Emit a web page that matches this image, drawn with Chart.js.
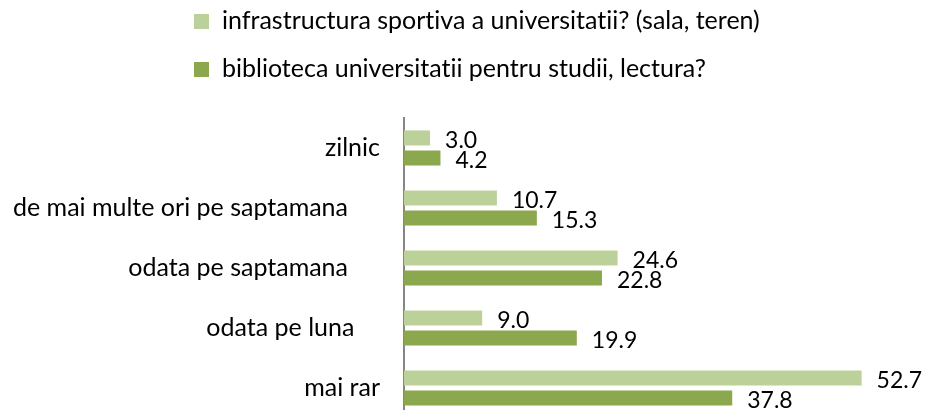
<!DOCTYPE html>
<html>
<head>
<meta charset="utf-8">
<script src="https://cdn.jsdelivr.net/npm/chart.js@4.4.1/dist/chart.umd.min.js"></script>
<style>
  html, body { margin: 0; padding: 0; background: #fff; overflow: hidden; }
  #wrap { position: relative; width: 928px; height: 420px; }
  #legend { position: absolute; left: 194px; top: 5px; font-family: Lato, sans-serif; font-size: 25px; color: #000;
            font-variant-ligatures: none; font-feature-settings: "liga" 0, "clig" 0; }
  #legend .item { height: 48px; line-height: 28px; white-space: nowrap; }
  #legend .box { display: inline-block; width: 15px; height: 15px; margin-right: 13px; vertical-align: 0px; }
</style>
</head>
<body>
<div id="wrap">
  <div id="legend"></div>
  <canvas id="freqChart" width="928" height="420"></canvas>
</div>
<script>
// categorii (spatiile de la sfarsit sunt ca in original)
var categories = ['zilnic', 'de mai multe ori pe saptamana     ', 'odata pe saptamana     ', 'odata pe luna    ', 'mai rar'];
var seriesNames = ['infrastructura sportiva a universitatii? (sala, teren)', 'biblioteca universitatii pentru studii, lectura?'];
var sportValues = [3.0, 10.7, 24.6, 9.0, 52.7];
var libraryValues = [4.2, 15.3, 22.8, 19.9, 37.8];
var colors = ['#BCD19A', '#8BA84F'];

var FONT = 'Lato, sans-serif';

function $id(id) { return document.getElementById(id); }

// legenda in html, ca in original (aliniata la stanga)
function buildLegend() {
    var html = '';
    for (var i = 0; i < seriesNames.length; i++) {
        html += '<div class="item"><span class="box" style="background:' + colors[i] + '"></span>' + seriesNames[i] + '</div>';
    }
    $id('legend').innerHTML = html;
}

// etichete cu valoarea la capatul barei
var valueLabels = {
    id: 'valueLabels',
    afterDatasetsDraw: function(chart) {
        var ctx = chart.ctx;
        ctx.save();
        ctx.font = '23px ' + FONT;
        ctx.fillStyle = '#000';
        ctx.textBaseline = 'alphabetic';
        ctx.textAlign = 'left';
        chart.data.datasets.forEach(function(ds, i) {
            var meta = chart.getDatasetMeta(i);
            meta.data.forEach(function(bar, j) {
                ctx.fillText(ds.data[j].toFixed(1), bar.x + 15, bar.y + 10);
            });
        });
        ctx.restore();
    }
};

buildLegend();

var chart = new Chart($id('freqChart').getContext('2d'), {
    type: 'bar',
    data: {
        labels: categories,
        datasets: [
            { label: seriesNames[0], data: sportValues, backgroundColor: colors[0] },
            { label: seriesNames[1], data: libraryValues, backgroundColor: colors[1] }
        ]
    },
    options: {
        indexAxis: 'y',
        responsive: false,
        animation: false,
        categoryPercentage: 0.67,
        barPercentage: 0.75,
        layout: { padding: { top: 118, bottom: 2, left: 0, right: 3 } },
        plugins: {
            legend: { display: false },
            tooltip: { enabled: false }
        },
        scales: {
            x: { display: false, min: 0, max: 60 },
            y: {
                grid: { display: false, drawTicks: false },
                border: { display: true, color: '#868686', width: 2 },
                ticks: { color: '#000', font: { family: FONT, size: 25 }, padding: 24 },
                afterFit: function(scale) {
                    // axa la x=404, fara padding vertical pentru etichete
                    scale.width = 404;
                    scale.paddingTop = 0;
                    scale.paddingBottom = 0;
                }
            }
        }
    },
    plugins: [valueLabels]
});
</script>
</body>
</html>
